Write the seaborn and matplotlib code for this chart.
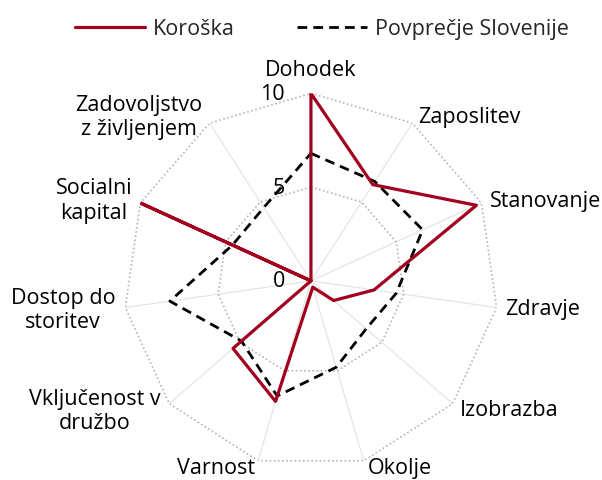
import numpy as np
import matplotlib
matplotlib.use("Agg")
import matplotlib.pyplot as plt
import seaborn as sns

# Kazalniki blaginje - Koroška vs. povprečje Slovenije
categories = ["Dohodek", "Zaposlitev", "Stanovanje", "Zdravje", "Izobrazba",
              "Okolje", "Varnost", "Vključenost v\ndružbo", "Dostop do\nstoritev",
              "Socialni\nkapital", "Zadovoljstvo\nz življenjem"]
koroska = [10.0, 6.1, 9.7, 3.4, 1.6, 0.35, 6.7, 5.5, 0.0, 10.0, 0.0]
slovenija = [6.8, 6.3, 6.55, 4.6, 3.9, 4.8, 6.4, 4.9, 7.6, 4.6, 4.65]
r_ticks = [0, 5, 10]

# label offsets in pixels from the outer ring vertex, and alignment
label_pos = [(0, 24, "center"), (6, 7, "left"), (8, 2, "left"), (9, -1, "left"),
             (7, -6, "left"), (4, -7, "left"), (-3, -7, "right"), (-9, -7, "right"),
             (-10, -2, "right"), (-8, 3, "right"), (-7, 7, "right")]

sns.set_theme(style="white")
plt.rcParams['font.family'] = ['Open Sans', 'DejaVu Sans']

RED = "#a3001f"
FS = 15.5
n = len(categories)
theta = np.linspace(0, 2 * np.pi, n, endpoint=False)
theta_c = np.append(theta, theta[0])


def closed(vals):
    return np.append(vals, vals[0])


fig = plt.figure(figsize=(6.02, 4.81), dpi=100)
ax = fig.add_axes([0.205, 0.024, 0.623, 0.78], projection="polar")
ax.set_theta_offset(np.pi / 2)
ax.set_theta_direction(-1)
ax.set_ylim(0, 10)
ax.grid(False)
ax.spines["polar"].set_visible(False)
ax.set_xticks([])
ax.set_yticks([])

# spokes and polygon grid
for t in theta:
    ax.plot([t, t], [0, 10], color="#e2e2e2", lw=0.8, zorder=1)
for r in r_ticks[1:]:
    ax.plot(theta_c, [r] * (n + 1), color="#b5b5b5", lw=1.2, ls=(0, (1, 1.5)), zorder=1)

ax.plot(theta_c, closed(slovenija), color="black", lw=2.0, ls=(0, (3.5, 2.2)),
        label="Povprečje Slovenije", zorder=3)
ax.plot(theta_c, closed(koroska), color=RED, lw=2.3, label="Koroška", zorder=4)

for t, lab, (dx, dy, ha) in zip(theta, categories, label_pos):
    ax.annotate(lab, xy=(t, 10), xytext=(dx, dy), textcoords="offset pixels",
                ha=ha, va="center", multialignment="center", fontsize=FS,
                linespacing=1.2, color="black", annotation_clip=False)

for r in r_ticks:
    ax.annotate(str(r), xy=(0, r), xytext=(-26, 0), textcoords="offset pixels",
                ha="right", va="center", fontsize=FS, color="black",
                annotation_clip=False)

handles, labels = ax.get_legend_handles_labels()
fig.legend(handles[::-1], labels[::-1], loc="upper center", bbox_to_anchor=(0.535, 1.0),
           ncol=2, frameon=False, fontsize=FS, handlelength=3.25,
           handletextpad=0.35, columnspacing=2.9)

fig.savefig("out.png", dpi=100)
